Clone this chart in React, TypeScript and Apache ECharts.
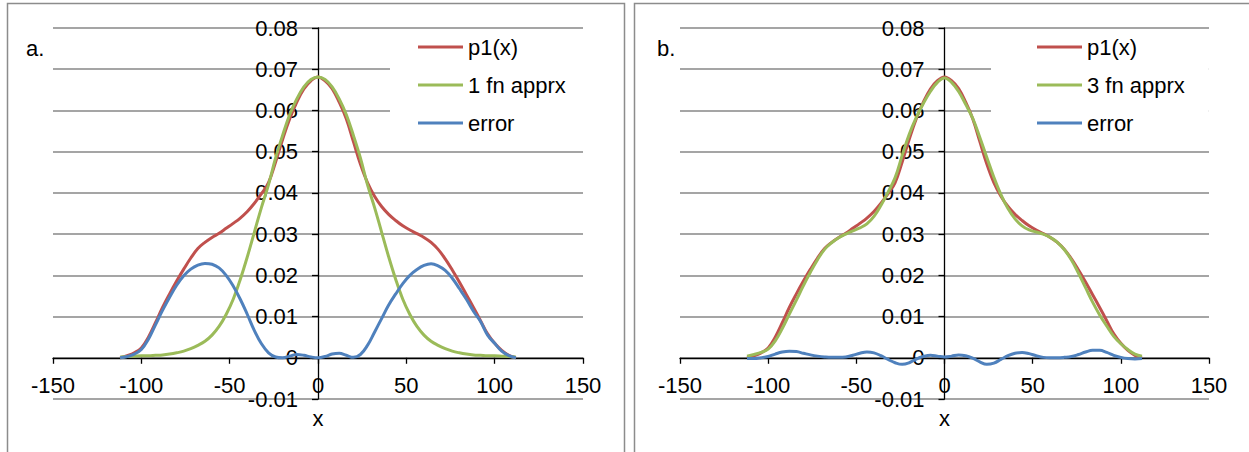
import { useEffect, useRef } from "react";
import * as echarts from "echarts";

// Sample positions along x
const X = [
  -112, -108, -104, -100, -96, -92, -88, -84, -80, -76, -72, -68, -64, -60, -56, -52, -48, -44, -40,
  -36, -32, -28, -24, -20, -16, -12, -8, -4, 0, 4, 8, 12, 16, 20, 24, 28, 32, 36, 40, 44, 48, 52, 56,
  60, 64, 68, 72, 76, 80, 84, 88, 92, 96, 100, 104, 108, 112,
];

// Target density p1(x)
const P1 = [
  0.0, 0.0005, 0.0012, 0.0024, 0.005, 0.0085, 0.0122, 0.0155, 0.0186, 0.0215, 0.0242, 0.0265, 0.028,
  0.0292, 0.0302, 0.0314, 0.0326, 0.0339, 0.0355, 0.0375, 0.0398, 0.0425, 0.0475, 0.053, 0.058, 0.062,
  0.0652, 0.0672, 0.0681, 0.0672, 0.0653, 0.062, 0.058, 0.0525, 0.047, 0.0425, 0.0392, 0.0367, 0.0348,
  0.0333, 0.032, 0.031, 0.0301, 0.0292, 0.028, 0.0263, 0.024, 0.0213, 0.0184, 0.0153, 0.0122, 0.009,
  0.0058, 0.0035, 0.0018, 0.0006, 0.0,
];

// Single-function approximation and its error
const APPROX_1 = [
  0.0002, 0.0003, 0.0004, 0.0005, 0.0005, 0.0006, 0.0007, 0.0009, 0.0012, 0.0016, 0.0022, 0.003, 0.004,
  0.0055, 0.0076, 0.0105, 0.0142, 0.019, 0.0245, 0.0305, 0.0365, 0.042, 0.0485, 0.054, 0.059, 0.0628,
  0.0657, 0.0675, 0.0681, 0.0675, 0.0657, 0.0628, 0.059, 0.054, 0.0485, 0.042, 0.0365, 0.0305, 0.0245,
  0.019, 0.0142, 0.0105, 0.0076, 0.0055, 0.004, 0.003, 0.0022, 0.0016, 0.0012, 0.0009, 0.0007, 0.0006,
  0.0005, 0.0005, 0.0004, 0.0003, 0.0002,
];
const ERROR_1 = [
  0.0, 0.0003, 0.0009, 0.002, 0.0045, 0.008, 0.0115, 0.0147, 0.0176, 0.0199, 0.0215, 0.0225, 0.0229,
  0.0227, 0.0218, 0.02, 0.0174, 0.0142, 0.0105, 0.0066, 0.0034, 0.0012, 0.0002, 0.0, 0.0004, 0.0008,
  0.0006, 0.0002, 0.0, 0.0003, 0.0009, 0.0011, 0.0006, 0.0001, 0.0008, 0.003, 0.0062, 0.0095, 0.0128,
  0.0155, 0.018, 0.02, 0.0214, 0.0224, 0.0228, 0.0223, 0.0212, 0.0193, 0.0168, 0.0142, 0.0113, 0.0088,
  0.0055, 0.0035, 0.0016, 0.0005, 0.0,
];

// Three-function approximation and its error
const APPROX_3 = [
  0.0004, 0.0008, 0.0013, 0.0021, 0.0041, 0.0071, 0.0106, 0.014, 0.0175, 0.0208, 0.0238, 0.0263, 0.0279,
  0.0291, 0.03, 0.0308, 0.0315, 0.0325, 0.0343, 0.037, 0.0402, 0.0437, 0.0491, 0.0542, 0.0583, 0.0617,
  0.0646, 0.0668, 0.0679, 0.0668, 0.0646, 0.0615, 0.0581, 0.0535, 0.0486, 0.0438, 0.0396, 0.0362,
  0.0337, 0.032, 0.031, 0.0305, 0.03, 0.0292, 0.028, 0.0262, 0.0237, 0.0205, 0.017, 0.0135, 0.0104,
  0.0077, 0.0052, 0.0034, 0.002, 0.0009, 0.0004,
];
const ERROR_3 = [
  -0.0002, -0.0002, 0.0, 0.0003, 0.0009, 0.0014, 0.0016, 0.0015, 0.0011, 0.0007, 0.0004, 0.0002, 0.0001,
  0.0001, 0.0002, 0.0006, 0.0011, 0.0014, 0.0012, 0.0005, -0.0004, -0.0012, -0.0016, -0.0012, -0.0003,
  0.0003, 0.0006, 0.0004, 0.0002, 0.0004, 0.0007, 0.0005, -0.0001, -0.001, -0.0016, -0.0013, -0.0004,
  0.0005, 0.0011, 0.0013, 0.001, 0.0005, 0.0001, 0.0, 0.0, 0.0001, 0.0003, 0.0008, 0.0014, 0.0018,
  0.0018, 0.0013, 0.0006, 0.0001, -0.0002, -0.0003, -0.0002,
];

const PANELS = [
  { label: "a.", approxName: "1 fn apprx", approx: APPROX_1, error: ERROR_1 },
  { label: "b.", approxName: "3 fn apprx", approx: APPROX_3, error: ERROR_3 },
];

const X_MIN = -150;
const X_MAX = 150;
const Y_MIN = -0.01;
const Y_MAX = 0.08;

const RED = "#C0504D";
const GREEN = "#9BBB59";
const BLUE = "#4F81BD";
const FONT = '"Liberation Sans", Arial, sans-serif';
const FS = 22;

const pairs = (ys: number[]) => X.map((x, i) => [x, ys[i]]);

export default function App() {
  const ref = useRef<HTMLDivElement>(null);

  useEffect(() => {
    const chart = echarts.init(ref.current!, null, { renderer: "svg" });

    const grids = [
      { left: 53, top: 28, width: 530, height: 371, outerBoundsMode: "none", containLabel: false },
      { left: 680, top: 28, width: 529, height: 371, outerBoundsMode: "none", containLabel: false },
    ];

    // Axes cross at the origin: shift each axis inward from its grid edge
    const xAxes = grids.map((g, i) => ({
      type: "value",
      gridIndex: i,
      min: X_MIN,
      max: X_MAX,
      interval: 50,
      position: "bottom",
      offset: -(g.height * (0 - Y_MIN)) / (Y_MAX - Y_MIN),
      axisLine: { show: true, onZero: false, lineStyle: { color: "#000", width: 1.3 } },
      axisTick: { show: true, length: 6, lineStyle: { color: "#000", width: 1.3 } },
      axisLabel: { fontSize: FS, color: "#000", fontFamily: FONT, margin: 17 },
      splitLine: { show: false },
    }));

    const yAxes = grids.map((g, i) => ({
      type: "value",
      gridIndex: i,
      min: Y_MIN,
      max: Y_MAX,
      interval: 0.01,
      position: "left",
      offset: -(g.width * (0 - X_MIN)) / (X_MAX - X_MIN),
      axisLine: { show: true, onZero: false, lineStyle: { color: "#000", width: 1.3 } },
      axisTick: { show: true, length: 6, lineStyle: { color: "#000", width: 1.3 } },
      axisLabel: {
        fontSize: FS,
        color: "#000",
        fontFamily: FONT,
        margin: 20,
        formatter: (v: number) => String(parseFloat(v.toFixed(2))),
      },
      splitLine: { show: true, lineStyle: { color: "#878787", width: 1.5 } },
    }));

    const series: any[] = [];
    PANELS.forEach((p, i) => {
      const common = {
        type: "line",
        xAxisIndex: i,
        yAxisIndex: i,
        showSymbol: false,
        symbol: "none",
        smooth: 0.4,
        silent: true,
      };
      series.push({
        ...common,
        name: "p1(x)",
        data: pairs(P1),
        itemStyle: { color: RED },
        lineStyle: { color: RED, width: 3 },
        z: 2,
      });
      series.push({
        ...common,
        name: p.approxName,
        data: pairs(p.approx),
        itemStyle: { color: GREEN },
        lineStyle: { color: GREEN, width: 3 },
        z: 3,
      });
      series.push({
        ...common,
        name: "error",
        data: pairs(p.error),
        itemStyle: { color: BLUE },
        lineStyle: { color: BLUE, width: 3 },
        z: 4,
      });
    });

    const legendBase = {
      orient: "vertical",
      top: 30,
      icon: "rect",
      itemWidth: 45,
      itemHeight: 3,
      itemGap: 16,
      backgroundColor: "#fff",
      textStyle: { fontSize: FS, color: "#000", fontFamily: FONT },
      selectedMode: false,
    };

    const legends = [
      { ...legendBase, left: 390, padding: [6, 24, 15, 28], data: ["p1(x)", "1 fn apprx", "error"] },
      { ...legendBase, left: 991, padding: [6, 24, 15, 46], data: ["p1(x)", "3 fn apprx", "error"] },
    ];

    const textEl = (text: string, x: number, y: number, align: string) => ({
      type: "text",
      x,
      y,
      silent: true,
      style: {
        text,
        fill: "#000",
        font: `${FS}px ${FONT}`,
        textAlign: align,
        textVerticalAlign: "middle",
        align,
        verticalAlign: "middle",
      },
    });

    const graphic = [
      {
        type: "rect",
        silent: true,
        shape: { x: 7.5, y: 3.5, width: 617, height: 480 },
        style: { fill: "none", stroke: "#8c8c8c", lineWidth: 1.5 },
        z: -10,
      },
      {
        type: "rect",
        silent: true,
        shape: { x: 634.5, y: 3.5, width: 640, height: 480 },
        style: { fill: "none", stroke: "#8c8c8c", lineWidth: 1.5 },
        z: -10,
      },
      textEl(PANELS[0].label, 26, 48, "left"),
      textEl(PANELS[1].label, 657, 48, "left"),
      textEl("x", 318, 418, "center"),
      textEl("x", 944.5, 418, "center"),
    ];

    chart.setOption({
      animation: false,
      backgroundColor: "#fff",
      textStyle: { fontFamily: FONT },
      grid: grids,
      xAxis: xAxes,
      yAxis: yAxes,
      legend: legends,
      series,
      graphic,
    });

    return () => chart.dispose();
  }, []);

  return (
    <div
      ref={ref}
      style={{ position: "fixed", left: 0, top: 0, width: 1249, height: 452, background: "#fff" }}
    />
  );
}
